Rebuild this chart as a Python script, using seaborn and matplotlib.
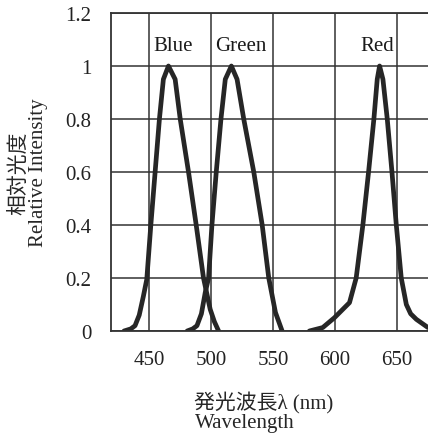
import numpy as np
import pandas as pd
import matplotlib
matplotlib.use("Agg")
import matplotlib.pyplot as plt
import seaborn as sns

# spectra (wavelength nm, relative intensity)
blue_nm = [429.5, 435.0, 438.4, 441.8, 445.1, 447.9, 451.1, 454.6, 458.1, 461.3, 465.4,
           470.8, 474.9, 481.6, 487.8, 493.7, 499.1, 502.5, 505.9]
blue_int = [0.0, 0.008, 0.02, 0.06, 0.13, 0.195, 0.396, 0.598, 0.8, 0.95, 1.0,
            0.95, 0.8, 0.6, 0.4, 0.2, 0.082, 0.035, 0.0]

green_nm = [480.5, 485.0, 488.4, 492.0, 495.1, 497.8, 500.5, 504.0, 507.8, 511.3, 516.2,
            520.8, 526.2, 534.3, 541.1, 546.4, 551.8, 557.2]
green_int = [0.0, 0.008, 0.02, 0.065, 0.145, 0.2, 0.4, 0.6, 0.8, 0.95, 1.0,
             0.95, 0.8, 0.6, 0.4, 0.2, 0.07, 0.0]

red_nm = [579.2, 590.0, 599.4, 611.6, 617.0, 622.4, 627.0, 631.3, 634.0, 635.9,
          638.6, 642.1, 645.9, 649.4, 653.4, 657.5, 661.0, 665.6, 675.0]
red_int = [0.0, 0.013, 0.05, 0.107, 0.2, 0.4, 0.6, 0.8, 0.95, 1.0,
           0.95, 0.8, 0.6, 0.4, 0.2, 0.10, 0.065, 0.044, 0.013]

band_names = ["Blue", "Green", "Red"]
band_label_x = [469.5, 524.0, 633.7]
band_label_y = 1.078

x_ticks = [450, 500, 550, 600, 650]
y_ticks = [0, 0.2, 0.4, 0.6, 0.8, 1, 1.2]
y_tick_labels = ["0", "0.2", "0.4", "0.6", "0.8", "1", "1.2"]

df = pd.concat([
    pd.DataFrame({"nm": blue_nm, "val": blue_int, "band": "Blue"}),
    pd.DataFrame({"nm": green_nm, "val": green_int, "band": "Green"}),
    pd.DataFrame({"nm": red_nm, "val": red_int, "band": "Red"}),
], ignore_index=True)

sns.set_style("white")
plt.rcParams['font.family'] = ['Liberation Serif', 'Noto Sans CJK JP', 'DejaVu Sans']
plt.rcParams['font.size'] = 15

fig = plt.figure(figsize=(4.28, 4.35), dpi=100)
ax = fig.add_axes([111 / 428, (435 - 332) / 435, (428 - 111) / 428, (332 - 14) / 435])

ax.set_xlim(419, 675)
ax.set_ylim(0, 1.2)
ax.set_xticks(x_ticks)
ax.set_yticks(y_ticks)
ax.set_yticklabels(y_tick_labels)
ax.grid(True, color="#333333", linewidth=1.1)
ax.set_axisbelow(True)

sns.lineplot(data=df, x="nm", y="val", hue="band", units="band", estimator=None,
             palette={b: "#262626" for b in band_names}, linewidth=3.4,
             legend=False, sort=False, ax=ax, solid_capstyle="round",
             solid_joinstyle="round")

for name, lx in zip(band_names, band_label_x):
    ax.text(lx, band_label_y, name, ha="center", va="center", fontsize=15,
            color="#1a1a1a")

for s in ["left", "bottom", "top"]:
    ax.spines[s].set_color("#333333")
    ax.spines[s].set_linewidth(1.3)
ax.spines["right"].set_visible(False)

ax.tick_params(axis="both", length=0, labelsize=15, colors="#222222")
ax.tick_params(axis="x", pad=14)
ax.tick_params(axis="y", pad=14)

ax.set_ylabel("相対光度\nRelative Intensity", fontsize=15, linespacing=0.95)
ax.yaxis.set_label_coords(-0.2, 0.5)
ax.set_xlabel("発光波長λ (nm)\nWavelength", fontsize=15, multialignment="left",
              linespacing=0.95)
ax.xaxis.set_label_coords(0.483, -0.19)

fig.savefig("out.png", dpi=100)
